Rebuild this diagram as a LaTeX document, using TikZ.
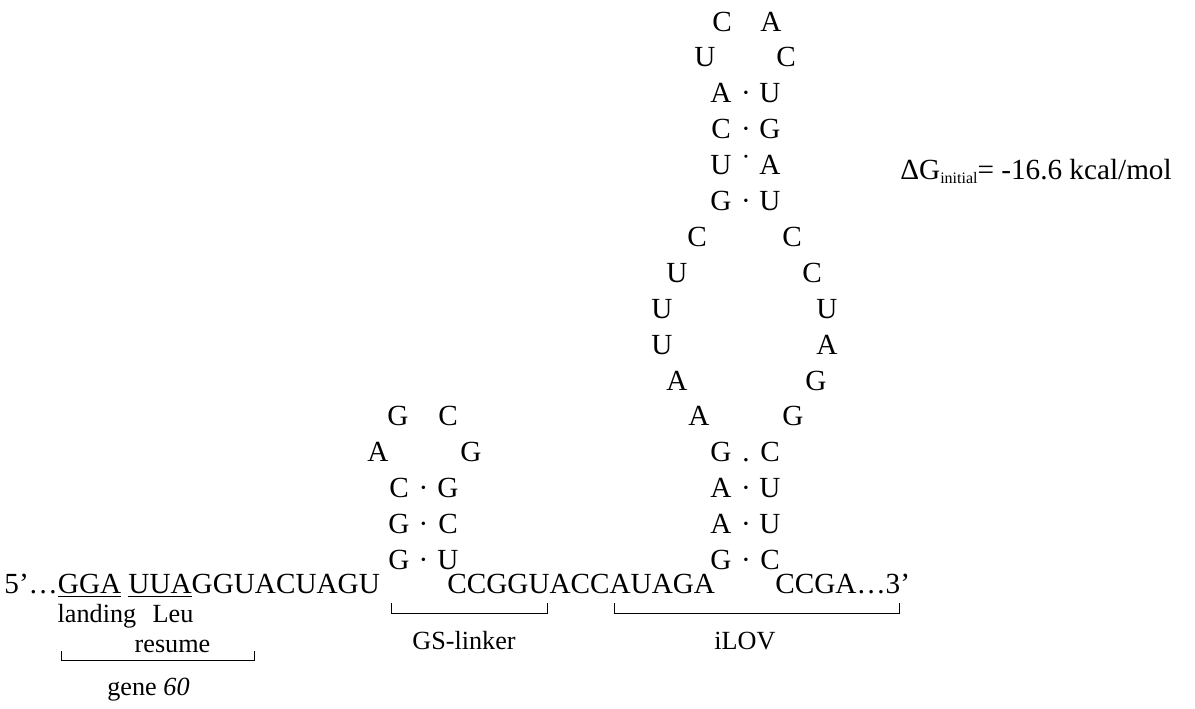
\documentclass[tikz,border=0pt]{standalone}
\usepackage{fontspec}
\setmainfont{Liberation Serif}
\newcommand{\seqfont}{\fontsize{14.6}{17}\selectfont}
\newcommand{\tagfont}{\fontsize{13.1}{15}\selectfont}

\begin{document}
\begin{tikzpicture}[
		x=0.5pt, y=-0.5pt,
		every node/.style={inner sep=0pt, font=\seqfont},
		nuc/.style={anchor=base},
		strand/.style={anchor=base west},
		tag/.style={anchor=base, font=\tagfont},
		bracket/.style={line width=0.5pt}
		]
		
		\useasboundingbox (0,0) rectangle (1195,708);
		
		% Draw the strand
		\node[strand] (s1) at (4, 593) {5’…\underline{GGA} \underline{UUA}GGUACUAGU};
		\node[strand] (s2) at (447, 593) {CCGGUACCAUAGA};
		\node[strand] (s3) at (775, 593) {CCGA…3’};
		
		% Draw small hairpin: stem pairs, then loop
		\foreach \k/\l/\d/\r in {0/G/·/U, 1/G/·/C, 2/C/·/G} {
			\node[nuc] (hl\k) at (399, 569.5-35.9*\k) {\l};
			\node[nuc] (hd\k) at (423.5, 569.5-35.9*\k) {\d};
			\node[nuc] (hr\k) at (448, 569.5-35.9*\k) {\r};
		}
		\node[nuc] (hl3) at (378, 461.8) {A};
		\node[nuc] (hr3) at (471, 461.8) {G};
		\node[nuc] (hl4) at (398, 425.9) {G};
		\node[nuc] (hr4) at (448, 425.9) {C};
		
		% Draw large hairpin: two stems
		\foreach \k/\l/\d/\r in {0/G/·/C, 1/A/·/U, 2/A/·/U, 3/G/./C,
			10/G/·/U, 11/U/˙/A, 12/C/·/G, 13/A/·/U} {
			\node[nuc] (bl\k) at (721, 569.5-35.9*\k) {\l};
			\node[nuc] (bd\k) at (746, 569.5-35.9*\k) {\d};
			\node[nuc] (br\k) at (770, 569.5-35.9*\k) {\r};
		}
		% Draw large hairpin: loops
		\foreach \k/\xl/\l/\xr/\r in {4/699/A/793/G, 5/677/A/816/G, 6/662/U/827/A,
			7/662/U/827/U, 8/677/U/812/C, 9/697/C/792/C, 14/705/U/786/C, 15/722/C/771/A} {
			\node[nuc] (bl\k) at (\xl, 569.5-35.9*\k) {\l};
			\node[nuc] (br\k) at (\xr, 569.5-35.9*\k) {\r};
		}
		
		% Add free energy
		\node[strand] (dg) at (900, 179) {ΔG\raisebox{-2pt}{\fontsize{8}{9}\selectfont initial}= -16.6 kcal/mol};
		
		% Add brackets
		\coordinate (g60a) at (61, 651);
		\coordinate (g60b) at (254, 651);
		\coordinate (gsa) at (391, 603);
		\coordinate (gsb) at (547, 603);
		\coordinate (lova) at (614, 603);
		\coordinate (lovb) at (899, 603);
		\draw[bracket] (g60a) -- ++(0, 9) -| (g60b);
		\draw[bracket] (gsa) -- ++(0, 10) -| (gsb);
		\draw[bracket] (lova) -- ++(0, 10) -| (lovb);
		
		% Add region labels
		\node[tag] (landing) at (97, 622) {landing};
		\node[tag] (leu) at (173, 622) {Leu};
		\node[tag] (resume) at (172.5, 652) {resume};
		\node[tag] (gene) at (148.5, 695) {gene \textit{60}};
		\node[tag] (gs) at (464, 649) {GS-linker};
		\node[tag] (ilov) at (745, 649) {iLOV};
		
	\end{tikzpicture}
\end{document}
